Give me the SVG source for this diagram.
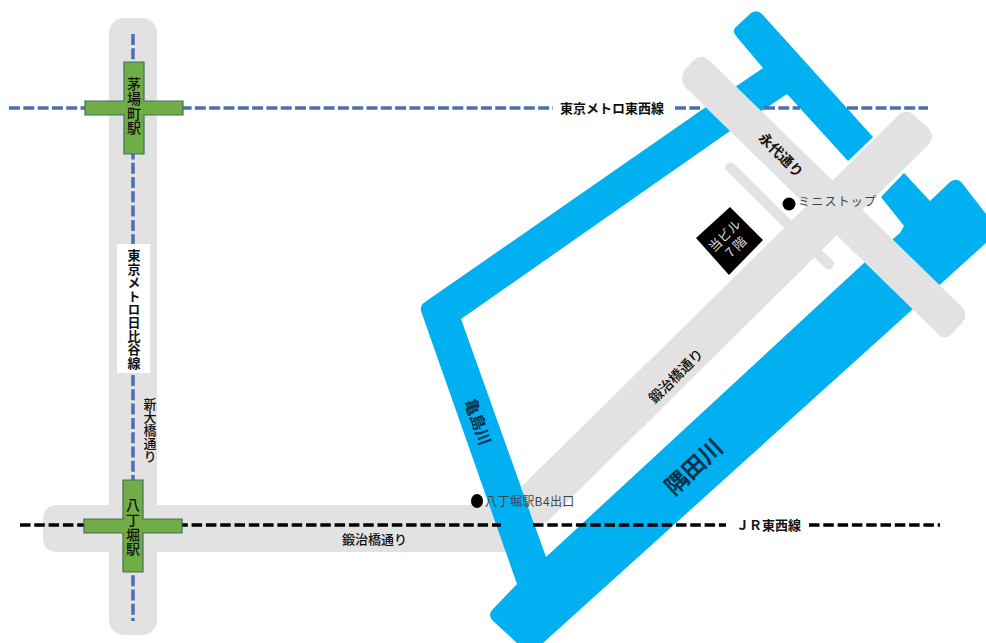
<svg xmlns="http://www.w3.org/2000/svg" width="986" height="643" viewBox="0 0 986 643">
<style>
text{font-family:"Noto Sans CJK JP","Noto Sans",sans-serif;fill:#111}
.road{fill:#e2e2e2}
.river{fill:#00b0f0}
.st{fill:#70ad47;stroke:#41705a;stroke-width:1.2}
.v{writing-mode:vertical-rl}
.blue{stroke:#4a6fb5;stroke-width:3.5;stroke-dasharray:11 3.3;fill:none}
.black{stroke:#000;stroke-width:3.5;stroke-dasharray:10.5 3.8;fill:none}
.lbl{font-size:13px}
.g{fill:#444;font-size:12px}
</style>
<rect width="986" height="643" fill="#fff"/>
<g id="roads-base">
<rect class="road" x="109" y="18" width="48" height="617" rx="15"/>
<path class="road" d="M58 505H520V552H58Q43 552 43 537V520Q43 505 58 505Z"/>
</g>
<g id="rivers">
<path class="river" d="M425 302L706 107L738 131L730 131L461 319L546 557L864 263L900 233L904 226L881 197L904 173L930 201L950 182Q957 177 962 183L986 214V243L543 643H517L493 621Q487 615 493 609L517 584L421 311Q420 305 425 302Z"/>
<path class="river" d="M738 85L763 68L736 36Q731 30 737 26L751 13Q757 9 762 14L873 137L848 161L787 94L760 112L730 131L706 107Z"/>
</g>
<g id="roads-top">
<path class="road" d="M521 487L896 118Q902 110 910 112L925 125Q938 136 927 146L547 522L535 525Z"/>
<path class="road" d="M687 67L694 60Q702 53 710 61L962 307Q969 315 962 323L952 334Q945 341 938 334L687 89Q677 78 687 67Z"/>
<path class="road" d="M727 171Q723 167 727 164Q730 161 734 164L834 262Q835 265 831 269Q828 271 825 268Z"/>
</g>
<g id="connectors">
<line class="blue" x1="9" y1="108" x2="553" y2="108"/>
<line class="blue" x1="675" y1="108" x2="700" y2="108"/>
<line class="blue" x1="764" y1="108" x2="800" y2="108"/>
<line class="blue" x1="847" y1="108" x2="928" y2="108"/>
<line class="blue" x1="133" y1="34" x2="133" y2="244"/>
<line class="blue" x1="133" y1="375" x2="133" y2="621"/>
<line class="black" x1="20" y1="525" x2="501" y2="525"/>
<line class="black" x1="533" y1="525" x2="726" y2="525"/>
<line class="black" x1="809" y1="525" x2="940" y2="525"/>
</g>
<g id="station-kayabacho">
<path class="st" d="M124 62H144V101H183V115H144V154H124V115H85V101H124Z"/>
<text class="v" x="134" y="77" font-size="14" letter-spacing="0.7" font-weight="500">茅場町駅</text>
</g>
<g id="station-hatchobori">
<path class="st" d="M123 480H143V519H182V533H143V572H123V533H84V519H123Z"/>
<text class="v" x="133" y="498" font-size="14" letter-spacing="0.7" font-weight="500">八丁堀駅</text>
</g>
<g id="label-hibiya">
<rect x="117" y="244" width="33" height="129" fill="#fff"/>
<text class="v" x="134" y="249" font-size="13" letter-spacing="0.4" font-weight="700">東京メトロ日比谷線</text>
</g>
<g id="label-shin-ohashi"><text class="v" x="150" y="398" font-size="13" font-weight="500">新大橋通り</text></g>
<g id="label-tozai"><text class="lbl" x="560" y="113" font-weight="700">東京メトロ東西線</text></g>
<g id="label-jr"><text class="lbl" x="736" y="530" font-weight="700">ＪＲ東西線</text></g>
<g id="label-kajibashi-h"><text class="lbl" x="342" y="544" font-weight="500">鍛治橋通り</text></g>
<g id="label-kajibashi-d"><text font-size="14" transform="translate(676 376) rotate(-45)" text-anchor="middle" y="5" font-weight="500">鍛治橋通り</text></g>
<g id="label-eitai"><text font-size="14" transform="translate(781 155) rotate(45)" text-anchor="middle" y="5" font-weight="700">永代通り</text></g>
<g id="label-kameshima"><text font-size="16" transform="translate(478 422) rotate(70)" text-anchor="middle" y="6" font-weight="700" style="fill:#06324e">亀島川</text></g>
<g id="label-sumida"><text transform="translate(694 467) rotate(-43)" text-anchor="middle" y="8" font-size="23" font-weight="700" style="fill:#06324e">隅田川</text></g>
<g id="this-building">
<path d="M730 207L763 240L729 275L696 238Z" fill="#000"/>
<g transform="translate(730 241) rotate(-45)">
<text text-anchor="middle" y="-3" font-size="13" style="fill:#ddd">当ビル</text>
<text text-anchor="middle" y="13" font-size="13" style="fill:#ddd">7 階</text>
</g>
</g>
<g id="ministop">
<circle cx="789" cy="204" r="6.5" fill="#000"/>
<text class="g" x="798" y="206" letter-spacing="1.2">ミニストップ</text>
</g>
<g id="hatchobori-exit">
<ellipse cx="477" cy="501" rx="6" ry="7" fill="#000"/>
<text class="g" x="485" y="506" letter-spacing="0.4">八丁堀駅B4出口</text>
</g>
</svg>
